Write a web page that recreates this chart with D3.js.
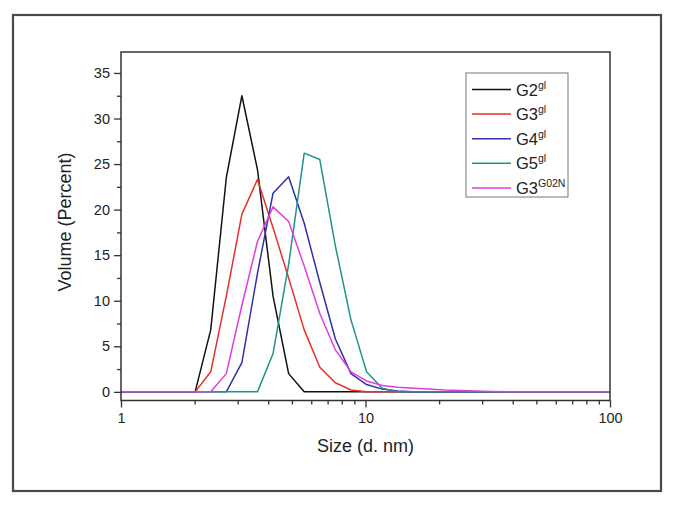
<!DOCTYPE html>
<html><head><meta charset="utf-8">
<script src="https://cdn.jsdelivr.net/npm/d3@7/dist/d3.min.js"></script>
<style>
html,body{margin:0;padding:0;background:#fff;}
svg text{font-family:"Liberation Sans",Arial,sans-serif;fill:#222;}
</style></head>
<body><svg id="c" width="676" height="505"></svg>
<script>
// Size bins (d. nm)
const sizes = [0.965,1.117,1.294,1.499,1.736,2.010,2.328,2.696,3.122,3.615,4.187,4.849,5.615,6.503,7.531,8.721,10.10,11.70,13.54,15.69,18.17,21.04,24.36,28.21,32.67,37.84,43.82,50.75,58.77,68.06,78.82,91.28,105.7];
// Volume (%) per series, aligned with sizes
const g2  = [0,0,0,0,0,0,6.8,23.5,32.5,24.4,10.5,2.0,0,0,0,0,0,0,0,0,0,0,0,0,0,0,0,0,0,0,0,0,0];
const g3  = [0,0,0,0,0,0,2.2,10.5,19.5,23.3,18.0,12.5,6.8,2.7,1.0,0.2,0,0,0,0,0,0,0,0,0,0,0,0,0,0,0,0,0];
const g4  = [0,0,0,0,0,0,0,0,3.2,13.0,21.8,23.6,18.5,12.0,5.8,2.0,0.8,0.3,0.1,0,0,0,0,0,0,0,0,0,0,0,0,0,0];
const g5  = [0,0,0,0,0,0,0,0,0,0,4.2,14.0,26.2,25.5,16.0,7.9,2.2,0.4,0,0,0,0,0,0,0,0,0,0,0,0,0,0,0];
const g3n = [0,0,0,0,0,0,0,2.0,9.5,16.5,20.3,18.7,13.8,8.6,4.6,2.2,1.2,0.7,0.5,0.4,0.3,0.2,0.15,0.1,0.05,0,0,0,0,0,0,0,0];
const seriesNames = ["G2","G3","G4","G5","G3"];
const seriesSups  = ["gl","gl","gl","gl","G02N"];
const seriesData  = [g2,g3,g4,g5,g3n];
const colors = ["#111111","#e8302a","#3030a8","#1f9488","#e23be0"];
const yTicks = [0,5,10,15,20,25,30,35];
const yMinor = [2.5,7.5,12.5,17.5,22.5,27.5,32.5];
const xTicks = [1,10,100];
const xMinor = [2,3,4,5,6,7,8,9,20,30,40,50,60,70,80,90];

const svg = d3.select("#c");
const L=121,R=610,T=52,B=400.5;
const x = d3.scaleLog().domain([1,100]).range([L,R]);
const y = d3.scaleLinear().domain([-0.95,37.3]).range([B,T]);

// outer border
svg.append("rect").attr("x",13).attr("y",15).attr("width",648).attr("height",476)
  .attr("fill","none").attr("stroke","#4a4a4a").attr("stroke-width",2.2);

svg.append("clipPath").attr("id","clip").append("rect")
  .attr("x",L).attr("y",T).attr("width",R-L).attr("height",B-T);

const line = d3.line().x((d,i)=>x(sizes[i])).y(d=>y(d));
const g = svg.append("g").attr("clip-path","url(#clip)");
seriesData.forEach((s,i)=>{
  g.append("path").datum(s).attr("d",line).attr("fill","none")
   .attr("stroke",colors[i]).attr("stroke-width",1.5).attr("stroke-linejoin","round");
});

// axes
const ax = svg.append("g").attr("transform",`translate(0,${B})`)
  .call(d3.axisBottom(x).tickValues(xTicks).tickFormat(d3.format("d")).tickSize(7).tickPadding(5));
const axm = svg.append("g").attr("transform",`translate(0,${B})`)
  .call(d3.axisBottom(x).tickValues(xMinor).tickFormat("").tickSize(4));
const ay = svg.append("g").attr("transform",`translate(${L},0)`)
  .call(d3.axisLeft(y).tickValues(yTicks).tickSize(7).tickPadding(4));
const aym = svg.append("g").attr("transform",`translate(${L},0)`)
  .call(d3.axisLeft(y).tickValues(yMinor).tickFormat("").tickSize(4));
[ax,axm,ay,aym].forEach(a=>{
  a.select(".domain").remove();
  a.selectAll("line").attr("stroke","#333").attr("stroke-width",1.3);
  a.selectAll("text").attr("font-size",14.5).attr("fill","#222");
});

// frame
svg.append("rect").attr("x",L).attr("y",T).attr("width",R-L).attr("height",B-T)
  .attr("fill","none").attr("stroke","#333").attr("stroke-width",1.5);

// titles
svg.append("text").attr("x",(L+R)/2).attr("y",452).attr("text-anchor","middle")
  .attr("font-size",18).text("Size (d. nm)");
svg.append("text").attr("transform","translate(71,222) rotate(-90)").attr("text-anchor","middle")
  .attr("font-size",18).text("Volume (Percent)");

// legend
const lg = svg.append("g");
lg.append("rect").attr("x",466).attr("y",73).attr("width",102).attr("height",124)
  .attr("fill","#fff").attr("stroke","#777").attr("stroke-width",1);
seriesNames.forEach((n,i)=>{
  const yy = 89.5 + i*24.6;
  lg.append("line").attr("x1",472).attr("x2",511).attr("y1",yy).attr("y2",yy)
    .attr("stroke",colors[i]).attr("stroke-width",1.5);
  const t = lg.append("text").attr("x",516).attr("y",yy+6).attr("font-size",16.5);
  t.append("tspan").text(n);
  t.append("tspan").attr("dy",-7).attr("font-size",10.5).text(seriesSups[i]);
});
</script></body></html>
